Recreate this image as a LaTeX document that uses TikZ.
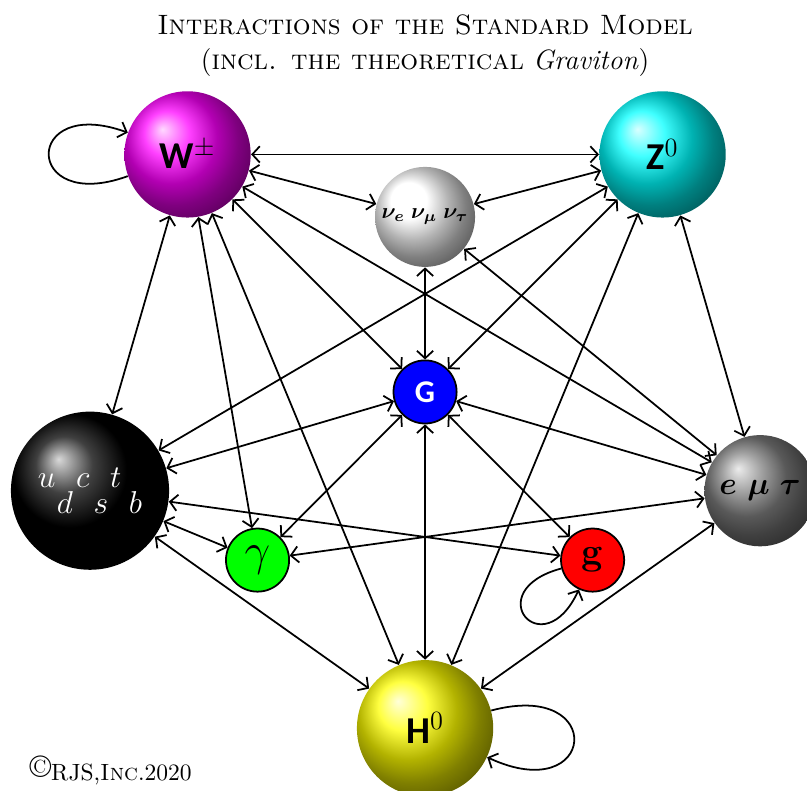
\documentclass[tikz,border=0pt]{standalone}
\usepackage{amsmath,amssymb}
\usepackage{bm}
\usepackage{fontspec}
\newfontfamily\bosonfont{Carlito}
\usepackage{tikz}
\usetikzlibrary{arrows.meta, positioning}
\tikzstyle{sphere} = [
    circle,
    inner sep=0pt,
    shading=ball,
    text centered,
    align=center
]
\tikzstyle{disc} = [
    circle,
    inner sep=0pt,
    minimum size=1.01cm,
    text centered,
    draw=black,
    thick
]
\tikzset{
    >={Straight Barb[length=1.2mm,width=2.6mm]}
}
\tikzstyle{arrow} = [
    thick,
    <->,
    draw=black
]
\tikzstyle{selfloop} = [
    thick,
    ->,
    draw=black,
    looseness=6.6
]

\begin{document}
\begin{tikzpicture}

\useasboundingbox (-6.8,-6.37) rectangle (6.11,6.27);

% Title
\node (title) [align=center, font=\fontsize{12.75}{16}\selectfont] at (0,5.54)
{\textsc{Interactions of the Standard Model}\\
(\textsc{incl. the theoretical} \textit{Graviton})};

% Nodes
\node (W) [sphere, ball color=magenta, minimum size=2.02cm] at (-3.8,3.8)
{\LARGE{\bosonfont\bfseries W}$^{\pm}$};

\node (Z) [sphere, ball color=cyan, minimum size=2.02cm] at (3.8,3.8)
{\LARGE{\bosonfont\bfseries Z}$^{0}$};

\node (nu) [sphere, ball color=white, minimum size=1.6cm] at (0,2.8)
{\normalsize$\bm{\nu_e\;\nu_\mu\;\nu_\tau}$};

\node (G) [disc, fill=blue] at (0,0)
{\Large\color{white}\bosonfont\bfseries G};

\node (quarks) [sphere, ball color=black, minimum size=2.53cm, align=left,
    font=\Large, text=white] at (-5.36,-1.58)
{$u~~c~~t$\\[-6.5pt]
\hspace{0.6em}$d~~s~~b$};

\node (leptons) [sphere, ball color=gray, minimum size=1.78cm] at (5.36,-1.58)
{\Large$\bm{e~\mu~\tau}$};

\node (photon) [disc, fill=green] at (-2.68,-2.69)
{\huge$\gamma$};

\node (gluon) [disc, fill=red] at (2.68,-2.69)
{\LARGE\bfseries g};

\node (H) [sphere, ball color=yellow, minimum size=2.18cm] at (0,-5.38)
{\LARGE{\bosonfont\bfseries H}$^{0}$};

\node (credit) [anchor=west, font=\fontsize{10.7}{13}\selectfont] at (-6.45,-6.05)
{\raisebox{0.3ex}{\Large\textcopyright}RJS,\textsc{Inc}.2020};

% Arrows
\draw [arrow] (W) -- (Z);
\draw [arrow] (W) -- (nu);
\draw [arrow] (W) -- (G);
\draw [arrow] (W) -- (leptons);
\draw [arrow] (W) -- (quarks);
\draw [arrow] (W) -- (photon);
\draw [arrow] (W) -- (H);

\draw [arrow] (Z) -- (nu);
\draw [arrow] (Z) -- (quarks);
\draw [arrow] (Z) -- (G);
\draw [arrow] (Z) -- (H);
\draw [arrow] (Z) -- (leptons);

\draw [arrow] (nu) -- (G);
\draw [arrow] (nu) -- (leptons);

\draw [arrow] (G) -- (quarks);
\draw [arrow] (G) -- (leptons);
\draw [arrow] (G) -- (photon);
\draw [arrow] (G) -- (gluon);
\draw [arrow] (G) -- (H);

\draw [arrow] (quarks) -- (gluon);
\draw [arrow] (quarks) -- (photon);
\draw [arrow] (quarks) -- (H);

\draw [arrow] (leptons) -- (photon);
\draw [arrow] (leptons) -- (H);

% Self-interactions
\draw [selfloop] (W) to [out=200, in=160] (W);
\draw [selfloop] (H) to [out=15, in=-25] (H);
\draw [selfloop, looseness=8] (gluon) to [out=195, in=245] (gluon);

\end{tikzpicture}
\end{document}
